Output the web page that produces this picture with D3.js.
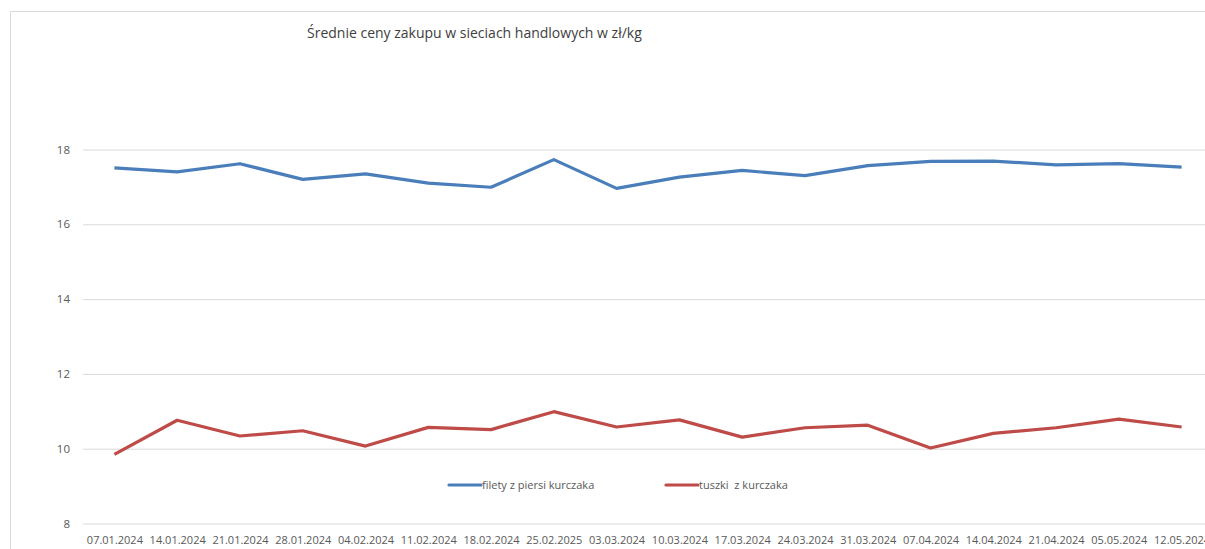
<!DOCTYPE html>
<html>
<head>
<meta charset="utf-8">
<script src="https://cdn.jsdelivr.net/npm/d3@7"></script>
<style>
  html, body { margin: 0; padding: 0; background: #fff; overflow: hidden; }
  svg { display: block; font-family: "Open Sans", sans-serif; }
</style>
</head>
<body>
<svg id="chart" width="1205" height="549"></svg>
<script>
const TITLE = "Średnie ceny zakupu w sieciach handlowych w zł/kg";
const dates = ["07.01.2024", "14.01.2024", "21.01.2024", "28.01.2024", "04.02.2024", "11.02.2024",
  "18.02.2024", "25.02.2025", "03.03.2024", "10.03.2024", "17.03.2024", "24.03.2024", "31.03.2024",
  "07.04.2024", "14.04.2024", "21.04.2024", "05.05.2024", "12.05.2024"];
const filety = [17.51, 17.40, 17.62, 17.20, 17.35, 17.10, 16.99, 17.73, 16.96, 17.26, 17.44, 17.30,
  17.57, 17.68, 17.69, 17.59, 17.62, 17.53];
const tuszki = [9.85, 10.76, 10.34, 10.48, 10.07, 10.57, 10.51, 10.99, 10.58, 10.77, 10.31, 10.56,
  10.63, 10.02, 10.41, 10.56, 10.79, 10.58];
const yTicks = [8, 10, 12, 14, 16, 18];
const seriesNames = ["filety z piersi kurczaka", "tuszki  z kurczaka"];
const seriesColors = ["#4a7ebb", "#be4b48"];

const svg = d3.select("#chart");
const plot = { left: 83, right: 1213, top: 112, bottom: 523.5 };

// frame of the chart area
svg.append("path")
  .attr("d", "M10.5,549 V11.5 H1205")
  .attr("fill", "none")
  .attr("stroke", "#d9d9d9");

svg.append("text")
  .attr("x", 307)
  .attr("y", 38)
  .attr("font-size", 14)
  .attr("fill", "#404040")
  .text(TITLE);

const x = d3.scalePoint().domain(dates).range([plot.left, plot.right]).padding(0.5);
const y = d3.scaleLinear().domain([8, 19]).range([plot.bottom, plot.bottom - 11 * 37.4]);

const yAxis = svg.append("g")
  .attr("transform", `translate(${plot.left},0)`)
  .call(d3.axisLeft(y).tickValues(yTicks).tickSize(-(plot.right - plot.left)).tickPadding(13));
yAxis.select(".domain").remove();
yAxis.selectAll(".tick line").attr("stroke", "#d9d9d9");
yAxis.selectAll(".tick text").attr("fill", "#595959").attr("font-size", 11.5).attr("font-family", "Open Sans");

const xAxis = svg.append("g")
  .attr("transform", `translate(0,${plot.bottom})`)
  .call(d3.axisBottom(x).tickSize(0).tickPadding(13));
xAxis.select(".domain").remove();
xAxis.selectAll(".tick text").attr("fill", "#595959").attr("font-size", 11).attr("font-family", "Open Sans");

const line = d3.line().x((d, i) => x(dates[i])).y((d) => y(d));
[filety, tuszki].forEach((values, i) => {
  svg.append("path")
    .datum(values)
    .attr("d", line)
    .attr("fill", "none")
    .attr("stroke", seriesColors[i])
    .attr("stroke-width", 3.2)
    .attr("stroke-linejoin", "round");
});

// legend
const legendX = [449, 666];
seriesNames.forEach((name, i) => {
  const g = svg.append("g").attr("transform", `translate(${legendX[i]},485)`);
  g.append("line").attr("x1", 0).attr("x2", 32).attr("stroke", seriesColors[i]).attr("stroke-width", 3.2).attr("stroke-linecap", "round");
  g.append("text").attr("x", 33).attr("y", 4).attr("font-size", 11).attr("fill", "#595959").style("white-space", "pre").text(name);
});
</script>
</body>
</html>
